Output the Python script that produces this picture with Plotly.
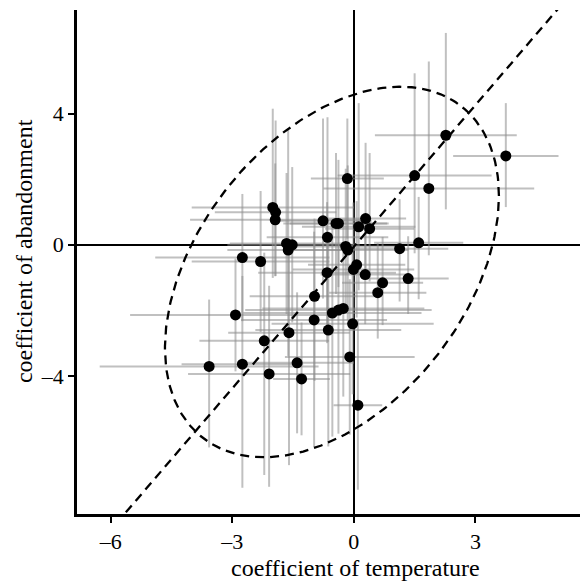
import numpy as np
import plotly.graph_objects as go

# coefficient estimates (temperature, abandonment)
x_coef = [3.75, 2.27, 1.50, 1.85, 1.60, 1.13, 1.34, 0.71, 0.59, 0.28, 0.07, -0.01,
          0.29, 0.12, 0.39, -0.20, -0.15, -0.16, -2.00, -1.93, -1.94, -0.76, -0.44, -0.38,
          -0.65, -1.66, -1.52, -1.62, -2.75, -2.30, -0.66, -0.97, -2.92, -0.53, -0.38, -0.26,
          -0.98, -0.03, -0.63, -1.60, -2.21, -0.10, -3.57, -2.75, -2.09, -1.40, -1.29, 0.10]
y_coef = [2.71, 3.34, 2.11, 1.72, 0.06, -0.12, -1.03, -1.16, -1.46, -0.91, -0.61, -0.75,
          0.80, 0.55, 0.49, -0.05, -0.16, 2.02, 1.14, 0.99, 0.76, 0.73, 0.65, 0.65,
          0.23, 0.04, 0.00, -0.16, -0.39, -0.51, -0.85, -1.57, -2.14, -2.08, -1.99, -1.94,
          -2.29, -2.41, -2.60, -2.68, -2.93, -3.42, -3.71, -3.64, -3.94, -3.60, -4.09, -4.89]
# interval half-widths
x_err = [1.30, 1.75, 1.90, 2.60, 1.10, 1.20, 1.00, 1.00, 1.20, 1.10, 1.20, 1.50,
         1.00, 1.40, 1.10, 1.30, 1.50, 0.90, 2.00, 1.50, 2.10, 1.20, 1.30, 1.20,
         1.50, 1.40, 1.60, 1.50, 2.15, 1.70, 1.70, 1.60, 2.60, 2.20, 2.30, 2.00,
         1.80, 2.00, 1.80, 1.50, 1.60, 1.60, 2.70, 1.50, 2.00, 1.40, 0.70, 0.60]
y_err_up = [1.61, 3.12, 3.12, 3.87, 1.40, 1.51, 1.29, 1.40, 1.51, 1.72, 1.94, 2.04,
            2.31, 3.77, 2.31, 2.37, 2.58, 1.83, 3.01, 2.80, 1.72, 3.12, 2.15, 1.94,
            3.66, 2.15, 2.37, 3.66, 1.94, 2.15, 2.15, 2.37, 1.72, 2.80, 2.69, 2.69,
            2.69, 2.15, 2.69, 2.69, 2.69, 2.37, 2.04, 2.69, 2.69, 2.15, 1.72, 2.58]
y_err_down = [1.56, 2.26, 2.37, 2.04, 1.72, 1.61, 1.08, 1.29, 1.40, 1.51, 1.61, 1.72,
              1.72, 1.94, 1.61, 2.04, 2.15, 1.83, 2.15, 1.94, 1.72, 2.37, 2.15, 1.94,
              2.69, 2.15, 2.37, 3.23, 1.94, 2.15, 2.15, 2.58, 1.72, 3.77, 3.77, 2.69,
              3.87, 2.15, 3.55, 4.04, 4.09, 2.37, 2.47, 3.77, 3.44, 2.15, 1.72, 2.58]

# regression line and ellipse parameters
line_slope = 1.44
line_intercept = -0.06
ell_cx, ell_cy = -0.54, -0.83
ell_rx, ell_ry = 4.12, 5.65
ell_rho = 0.41

x_range = [-6.83, 5.58]
y_range = [-8.21, 7.16]
x_ticks = [-6, -3, 0, 3]
x_ticklabels = ["\u20136", "\u20133", "0", "3"]
y_ticks = [-4, 0, 4]
y_ticklabels = ["\u20134", "0", "4"]
x_title = "coefficient of temperature"
y_title = "coefficient of abandonment"

FONT = "Liberation Serif, Times New Roman, serif"
DASH = "9px,6px"

fig = go.Figure()

# error bars (carried by invisible markers)
fig.add_trace(go.Scatter(
    x=x_coef, y=y_coef, mode="markers",
    marker=dict(size=1, color="rgba(0,0,0,0)"),
    error_x=dict(type="data", array=x_err, symmetric=True, color="rgba(140,140,140,0.55)",
                 thickness=2, width=0),
    error_y=dict(type="data", array=y_err_up, arrayminus=y_err_down, symmetric=False,
                 color="rgba(140,140,140,0.55)", thickness=2, width=0),
    hoverinfo="skip", showlegend=False))

# ellipse
t = np.linspace(0, 2 * np.pi, 300)
ex = ell_cx + ell_rx * np.cos(t)
ey = ell_cy + ell_ry * (ell_rho * np.cos(t) + np.sqrt(1 - ell_rho ** 2) * np.sin(t))
fig.add_trace(go.Scatter(x=ex, y=ey, mode="lines",
                         line=dict(color="black", width=2.3, dash=DASH),
                         hoverinfo="skip", showlegend=False))

# regression line
lx = np.array(x_range)
ly = line_intercept + line_slope * lx
fig.add_trace(go.Scatter(x=lx, y=ly, mode="lines",
                         line=dict(color="black", width=2.3, dash=DASH),
                         hoverinfo="skip", showlegend=False))

# points
fig.add_trace(go.Scatter(x=x_coef, y=y_coef, mode="markers",
                         marker=dict(size=11, color="black"),
                         showlegend=False))

axis_common = dict(showgrid=False, zeroline=True, zerolinecolor="black", zerolinewidth=2,
                   showline=True, linecolor="black", linewidth=2.5, automargin=False,
                   ticks="outside", ticklen=6, tickwidth=2, tickcolor="black",
                   tickfont=dict(family=FONT, size=22, color="black"))

fig.update_layout(
    width=580, height=582,
    margin=dict(l=77, r=0, t=10, b=68),
    plot_bgcolor="white", paper_bgcolor="white",
    font=dict(family=FONT, color="black"),
    xaxis=dict(range=x_range, tickvals=x_ticks, ticktext=x_ticklabels, **axis_common),
    yaxis=dict(range=y_range, tickvals=y_ticks, ticktext=y_ticklabels, **axis_common),
    annotations=[
        dict(text=x_title, xref="paper", yref="paper", x=0.554, y=-0.107,
             xanchor="center", yanchor="middle", showarrow=False,
             font=dict(family=FONT, size=24, color="black")),
        dict(text=y_title, xref="paper", yref="paper", x=-0.105, y=0.522,
             xanchor="center", yanchor="middle", textangle=-90, showarrow=False,
             font=dict(family=FONT, size=24, color="black")),
    ],
)

fig.write_html("out.html",
               config={"displayModeBar": False},
               post_script="document.body.style.margin='0';document.body.style.overflow='hidden';")
